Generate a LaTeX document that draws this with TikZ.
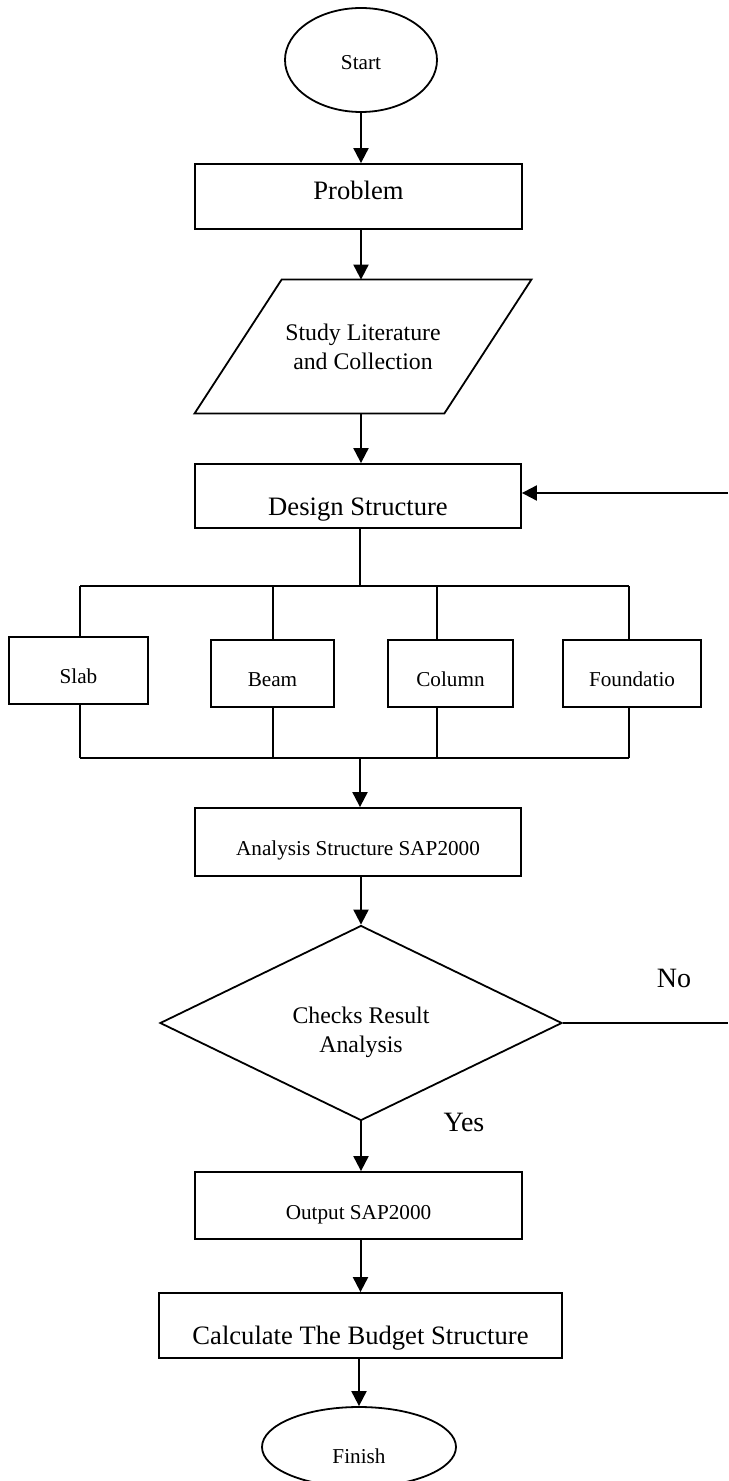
\documentclass[tikz,border=0pt]{standalone}
\usepackage{fontspec}
\setmainfont{Liberation Serif}
\usetikzlibrary{arrows.meta, shapes.geometric}

\newcommand{\smtxt}{\fontsize{10.6pt}{12.7pt}\selectfont}
\newcommand{\mdtxt}{\fontsize{11.9pt}{14.5pt}\selectfont}
\newcommand{\bgtxt}{\fontsize{13.3pt}{16pt}\selectfont}
\newcommand{\lbtxt}{\fontsize{14pt}{16pt}\selectfont}

\tikzset{
  box/.style={draw, line width=0.9pt, rectangle, inner sep=0pt},
  flow/.style={line width=1pt, -{Triangle[length=7.5pt, width=7.5pt]}},
  bus/.style={line width=1pt},
  branch/.style={line width=0.8pt},
  drop/.style={text height=#1, text depth=0pt},
}

\begin{document}
\begin{tikzpicture}[x=0.5pt, y=-0.5pt]
    \useasboundingbox (0,0) rectangle (728,1481);

    \node [ellipse, draw, line width=0.9pt, minimum width=76pt, minimum height=52pt,
      inner sep=0pt, drop=9.3pt, font=\smtxt] (start) at (361,60) {Start};
    \node [box, minimum width=163.5pt, minimum height=32.5pt, drop=3.5pt, font=\bgtxt]
      (prob) at (358.5,196.5) {Problem};
    \node [minimum width=124.5pt, minimum height=66.5pt, inner sep=0pt, align=center,
      font=\mdtxt] (lit) at (363,346.5) {Study Literature\\and Collection};
    \draw [line width=0.9pt] ([xshift=21.75pt]lit.north west) -- ([xshift=21.75pt]lit.north east)
      -- ([xshift=-21.75pt]lit.south east) -- ([xshift=-21.75pt]lit.south west) -- cycle;
    \node [box, minimum width=163pt, minimum height=32pt, drop=19pt, font=\bgtxt]
      (design) at (358,496) {Design Structure};

    % the four members
    \node [box, minimum width=69.5pt, minimum height=33.5pt, drop=12.9pt, font=\smtxt]
      (slab) at (78.5,670.5) {Slab};
    \node [box, minimum width=61.5pt, minimum height=33.5pt, drop=13.4pt, font=\smtxt]
      (beam) at (272.5,673.5) {Beam};
    \node [box, minimum width=62.5pt, minimum height=33.5pt, drop=13.4pt, font=\smtxt]
      (col) at (450.5,673.5) {Column};
    \node [box, minimum width=69pt, minimum height=33.5pt, drop=13.4pt, font=\smtxt]
      (fnd) at (632,673.5) {Foundatio};

    \node [box, minimum width=163pt, minimum height=34pt, drop=13.4pt, font=\smtxt]
      (ana) at (358,842) {Analysis Structure SAP2000};
    \node [diamond, draw, line width=0.9pt, aspect=2, minimum width=201pt,
      minimum height=97.5pt, inner sep=0pt,
      label={[font=\mdtxt, align=center, yshift=-4.75pt]center:Checks Result\\Analysis}]
      (chk) at (361,1023) {};
    \node [box, minimum width=163.5pt, minimum height=33.5pt, drop=14.4pt, font=\smtxt]
      (out) at (358.5,1205.5) {Output SAP2000};
    \node [box, minimum width=201.5pt, minimum height=32.5pt, drop=19.4pt, font=\bgtxt]
      (calc) at (360.5,1325.5) {Calculate The Budget Structure};
    \node [ellipse, draw, line width=0.9pt, minimum width=97pt, minimum height=40pt,
      inner sep=0pt, drop=16.2pt, font=\smtxt] (fin) at (359,1447) {Finish};

    \node [font=\lbtxt] (no) at (674,978) {No};
    \node [font=\lbtxt] (yes) at (464,1122) {Yes};

    \draw [flow] (start.south) -- (start.south |- prob.north);
    \draw [flow] (prob.south -| start.south) -- (start.south |- lit.north);
    \draw [flow] (lit.south -| start.south) -- (start.south |- design.north);

    \coordinate (split) at (360,586);
    \draw [bus] (split |- design.south) -- (split);
    \foreach \b/\x in {slab/80, beam/273, col/437, fnd/629} {
      \coordinate (up-\b) at (\x,586);
      \coordinate (dn-\b) at (\x,758);
      \draw [branch] (up-\b) -- (up-\b |- \b.north);
      \draw [branch] (dn-\b |- \b.south) -- (dn-\b);
    }
    \draw [bus] (up-slab) -- (up-fnd);
    \draw [bus] (dn-slab) -- (dn-fnd);
    \coordinate (join) at (360,758);
    \draw [flow] (join) -- (join |- ana.north);

    \draw [flow] (chk.north |- ana.south) -- (chk.north);
    \draw [flow] (chk.south) -- (chk.south |- out.north);
    \draw [flow] (calc.north |- out.south) -- (calc.north);
    \draw [flow] (fin.north |- calc.south) -- (fin.north);

    % back to the design when the check fails
    \coordinate (noend) at (728,1020);
    \coordinate (back) at (728,493);
    \draw [bus] (chk.east) -- (chk.east -| noend);
    \draw [flow] (back) -- (back -| design.east);
\end{tikzpicture}
\end{document}
